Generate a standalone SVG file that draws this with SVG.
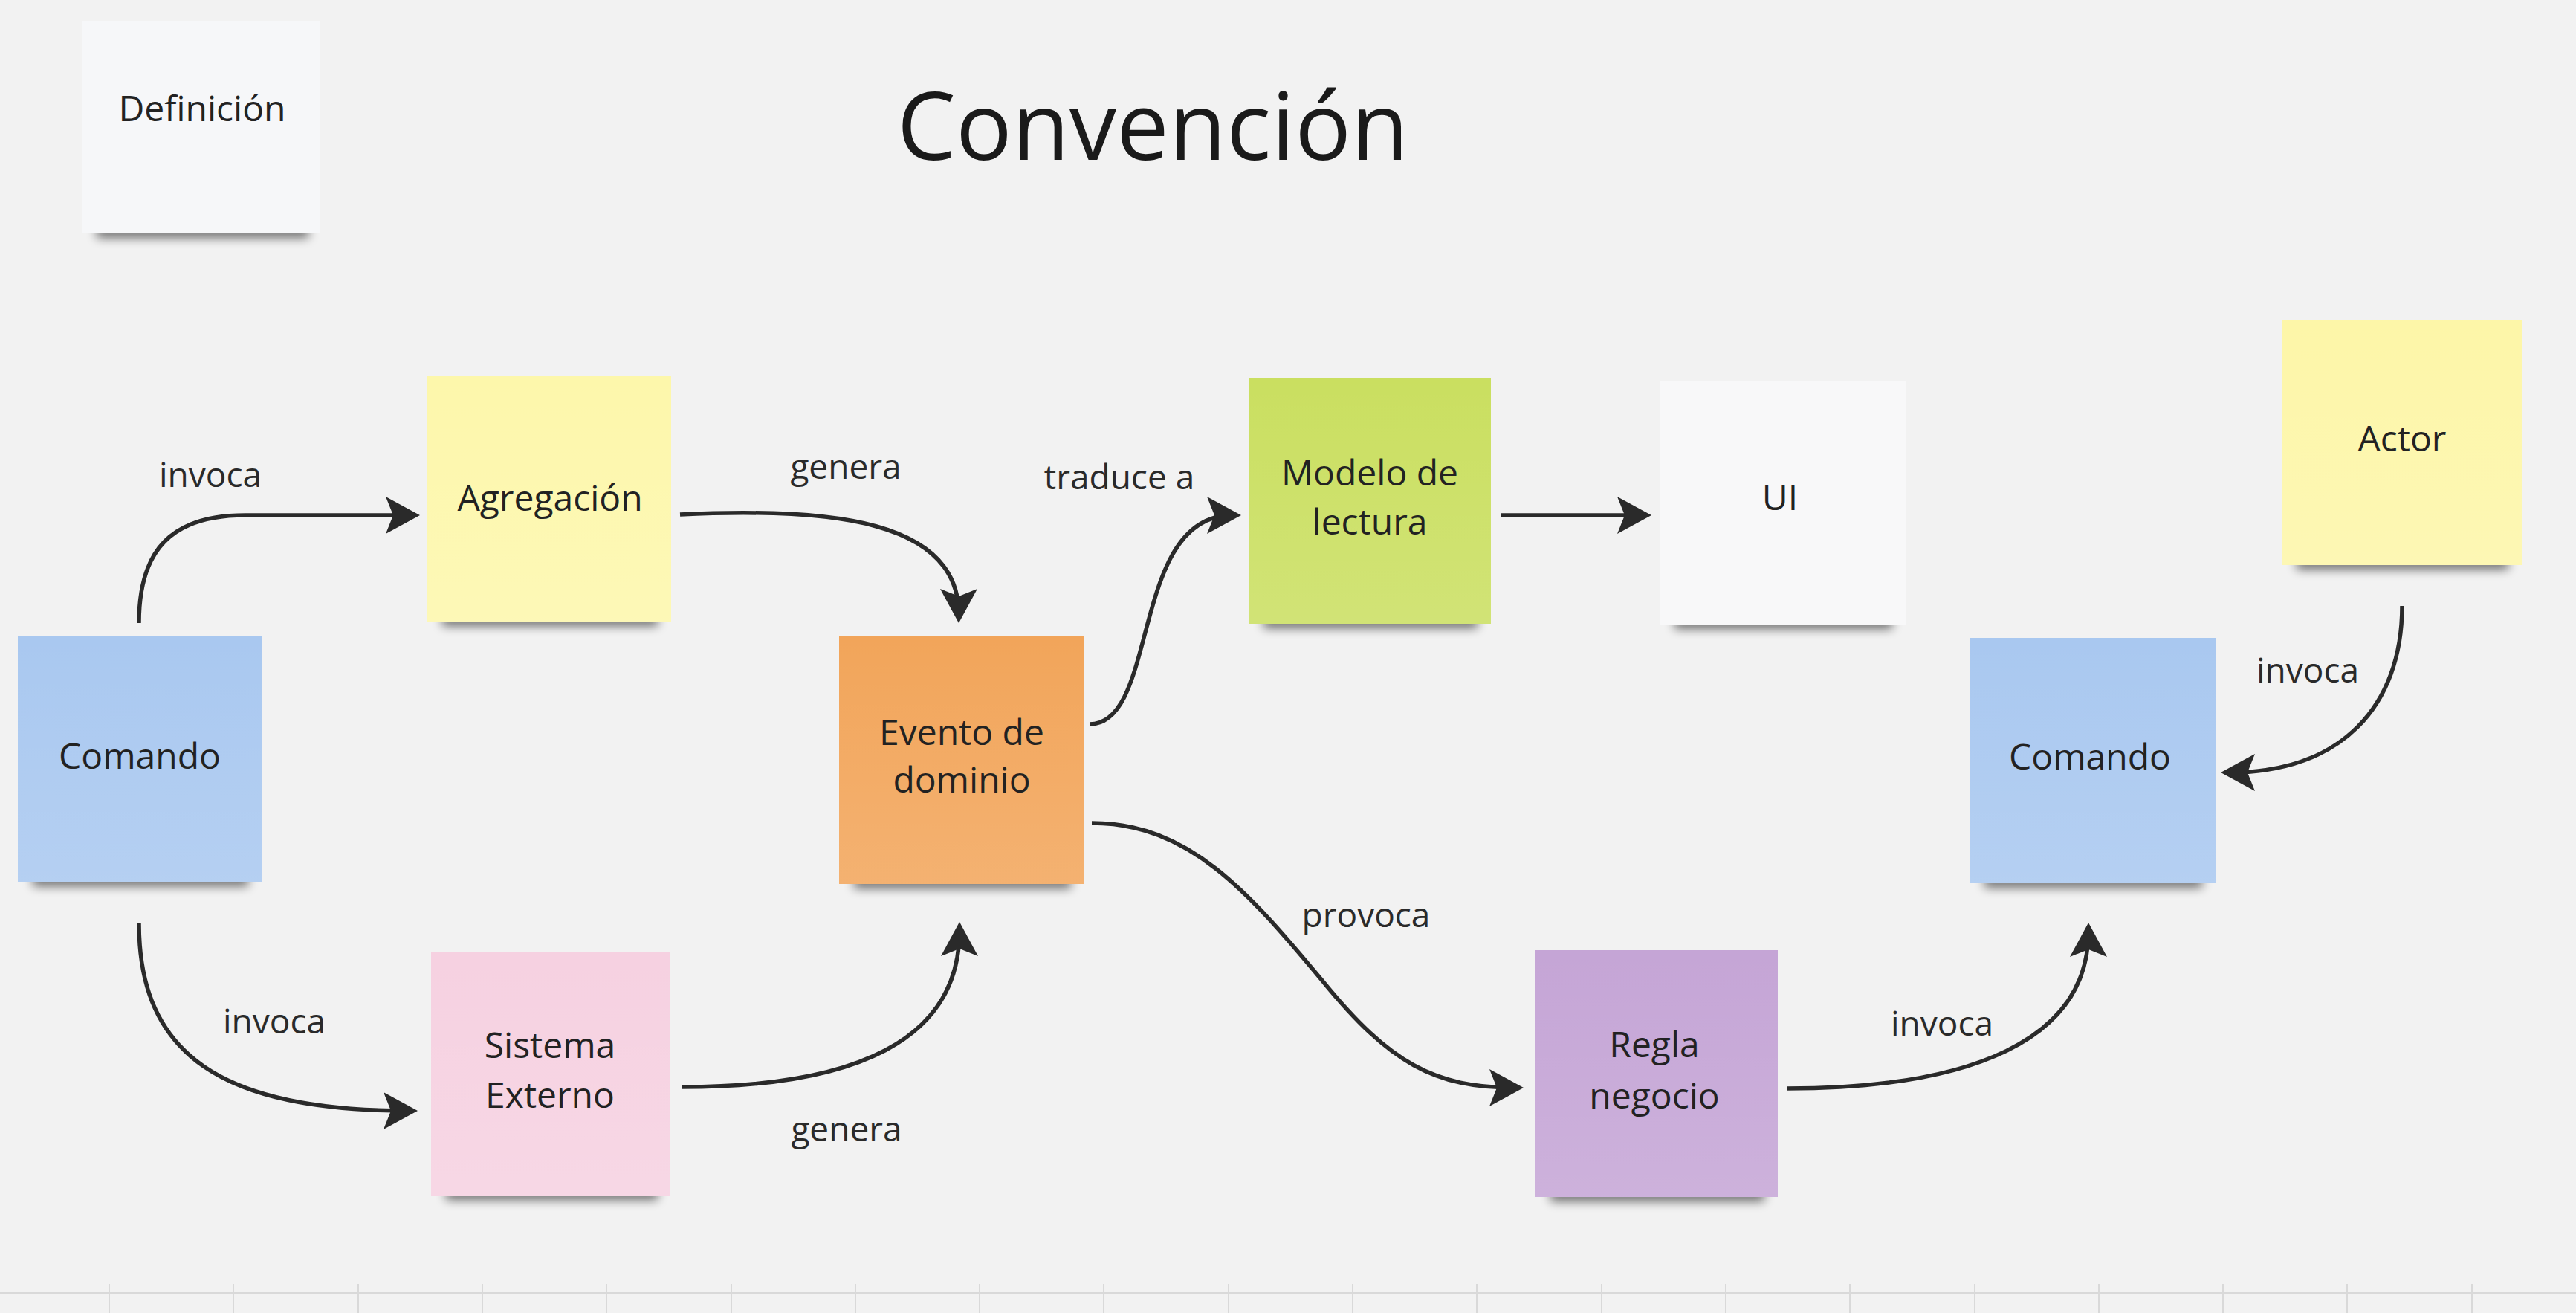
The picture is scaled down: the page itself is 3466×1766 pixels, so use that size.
<svg xmlns="http://www.w3.org/2000/svg" width="3466" height="1766" viewBox="0 0 3466 1766">
<defs>
<style>
.note-text{font-family:"Open Sans","Noto Sans","DejaVu Sans",sans-serif;font-size:48px;fill:#222;text-anchor:middle}
.lbl{font-family:"Open Sans","Noto Sans","DejaVu Sans",sans-serif;font-size:46px;fill:#2a2a2a;text-anchor:middle}
.title{font-family:"Open Sans","Noto Sans","DejaVu Sans",sans-serif;font-size:126px;fill:#1a1a1a;text-anchor:middle}
.edge{fill:none;stroke:#2a2a2a;stroke-width:5.5;marker-end:url(#arr)}
.shadow{fill:#000;opacity:0.55;filter:url(#blur)}
.grid{stroke:#d9d9d9;stroke-width:2}
</style>
<filter id="blur" x="-20%" y="-200%" width="140%" height="500%"><feGaussianBlur stdDeviation="7"/></filter>
<linearGradient id="sheen" x1="0" y1="0" x2="0" y2="1">
<stop offset="0" stop-color="#fff" stop-opacity="0"/>
<stop offset="1" stop-color="#fff" stop-opacity="0.14"/>
</linearGradient>
<marker id="arr" viewBox="0 0 48 52" refX="34" refY="26" markerWidth="48" markerHeight="52" markerUnits="userSpaceOnUse" orient="auto">
<path d="M0,1 L46,26 L0,51 L10,26 Z" fill="#2a2a2a"/>
</marker>
</defs>
<rect x="0" y="0" width="3466" height="1766" fill="#f2f2f2"/>
<g id="grid">
<line class="grid" x1="0" y1="1739" x2="3466" y2="1739"/>
<line class="grid" x1="147" y1="1727" x2="147" y2="1766"/>
<line class="grid" x1="314" y1="1727" x2="314" y2="1766"/>
<line class="grid" x1="482" y1="1727" x2="482" y2="1766"/>
<line class="grid" x1="649" y1="1727" x2="649" y2="1766"/>
<line class="grid" x1="816" y1="1727" x2="816" y2="1766"/>
<line class="grid" x1="984" y1="1727" x2="984" y2="1766"/>
<line class="grid" x1="1151" y1="1727" x2="1151" y2="1766"/>
<line class="grid" x1="1318" y1="1727" x2="1318" y2="1766"/>
<line class="grid" x1="1485" y1="1727" x2="1485" y2="1766"/>
<line class="grid" x1="1653" y1="1727" x2="1653" y2="1766"/>
<line class="grid" x1="1820" y1="1727" x2="1820" y2="1766"/>
<line class="grid" x1="1987" y1="1727" x2="1987" y2="1766"/>
<line class="grid" x1="2155" y1="1727" x2="2155" y2="1766"/>
<line class="grid" x1="2322" y1="1727" x2="2322" y2="1766"/>
<line class="grid" x1="2489" y1="1727" x2="2489" y2="1766"/>
<line class="grid" x1="2657" y1="1727" x2="2657" y2="1766"/>
<line class="grid" x1="2824" y1="1727" x2="2824" y2="1766"/>
<line class="grid" x1="2991" y1="1727" x2="2991" y2="1766"/>
<line class="grid" x1="3158" y1="1727" x2="3158" y2="1766"/>
<line class="grid" x1="3326" y1="1727" x2="3326" y2="1766"/>
</g>
<text class="title" x="1551" y="215">Convención</text>
<g id="definicion">
<rect class="shadow" x="130" y="304" width="285" height="16"/>
<rect x="110" y="28" width="321" height="285" fill="#f6f7f9"/>
<text class="note-text" x="272" y="163">Definición</text>
</g>
<g id="comando1">
<rect class="shadow" x="44" y="1176" width="290" height="16"/>
<rect x="24" y="856" width="328" height="330" fill="#a9c8f0"/>
<rect x="24" y="856" width="328" height="330" fill="url(#sheen)"/>
<text class="note-text" x="188" y="1034">Comando</text>
</g>
<g id="agregacion">
<rect class="shadow" x="595" y="826" width="290" height="16"/>
<rect x="575" y="506" width="328" height="330" fill="#fdf7ab"/>
<rect x="575" y="506" width="328" height="330" fill="url(#sheen)"/>
<text class="note-text" x="740" y="687">Agregación</text>
</g>
<g id="sistema">
<rect class="shadow" x="600" y="1598" width="285" height="16"/>
<rect x="580" y="1280" width="321" height="328" fill="#f6d1e1"/>
<rect x="580" y="1280" width="321" height="328" fill="url(#sheen)"/>
<text class="note-text" x="740" y="1423">Sistema</text>
<text class="note-text" x="740" y="1490">Externo</text>
</g>
<g id="evento">
<rect class="shadow" x="1149" y="1179" width="292" height="16"/>
<rect x="1129" y="856" width="330" height="333" fill="#f2a55a"/>
<rect x="1129" y="856" width="330" height="333" fill="url(#sheen)"/>
<text class="note-text" x="1294" y="1002">Evento de</text>
<text class="note-text" x="1294" y="1066">dominio</text>
</g>
<g id="modelo">
<rect class="shadow" x="1700" y="829" width="288" height="16"/>
<rect x="1680" y="509" width="326" height="330" fill="#cadf60"/>
<rect x="1680" y="509" width="326" height="330" fill="url(#sheen)"/>
<text class="note-text" x="1843" y="653">Modelo de</text>
<text class="note-text" x="1843" y="719">lectura</text>
</g>
<g id="ui">
<rect class="shadow" x="2253" y="830" width="293" height="16"/>
<rect x="2233" y="513" width="331" height="327" fill="#f8f8f9"/>
<text class="note-text" x="2395" y="686">UI</text>
</g>
<g id="actor">
<rect class="shadow" x="3090" y="750" width="285" height="16"/>
<rect x="3070" y="430" width="323" height="330" fill="#fdf6a8"/>
<rect x="3070" y="430" width="323" height="330" fill="url(#sheen)"/>
<text class="note-text" x="3232" y="607">Actor</text>
</g>
<g id="comando2">
<rect class="shadow" x="2670" y="1178" width="293" height="16"/>
<rect x="2650" y="858" width="331" height="330" fill="#a9c8f0"/>
<rect x="2650" y="858" width="331" height="330" fill="url(#sheen)"/>
<text class="note-text" x="2812" y="1035">Comando</text>
</g>
<g id="regla">
<rect class="shadow" x="2086" y="1600" width="288" height="16"/>
<rect x="2066" y="1278" width="326" height="332" fill="#c5a5d6"/>
<rect x="2066" y="1278" width="326" height="332" fill="url(#sheen)"/>
<text class="note-text" x="2226" y="1422">Regla</text>
<text class="note-text" x="2226" y="1491">negocio</text>
</g>
<g id="connectors">
<path class="edge" d="M187,838 C187,740 230,693 330,693 L553,693"/>
<path class="edge" d="M915,692 C1120,682 1290,700 1290,826"/>
<path class="edge" d="M187,1242 C187,1420 300,1494 550,1494"/>
<path class="edge" d="M918,1462 C1150,1462 1291,1400 1291,1252"/>
<path class="edge" d="M1466,974 C1560,974 1520,693 1658,693"/>
<path class="edge" d="M2020,693 L2210,693"/>
<path class="edge" d="M1469,1107 C1600,1107 1680,1200 1780,1320 C1870,1430 1930,1463 2038,1463"/>
<path class="edge" d="M2404,1464 C2650,1464 2810,1400 2810,1253"/>
<path class="edge" d="M3232,815 C3232,950 3150,1039 3000,1039"/>
<text class="lbl" x="283" y="655">invoca</text>
<text class="lbl" x="1138" y="644">genera</text>
<text class="lbl" x="1506" y="658">traduce a</text>
<text class="lbl" x="369" y="1390">invoca</text>
<text class="lbl" x="1139" y="1535">genera</text>
<text class="lbl" x="1838" y="1247">provoca</text>
<text class="lbl" x="2613" y="1393">invoca</text>
<text class="lbl" x="3105" y="918">invoca</text>
</g>
</svg>
